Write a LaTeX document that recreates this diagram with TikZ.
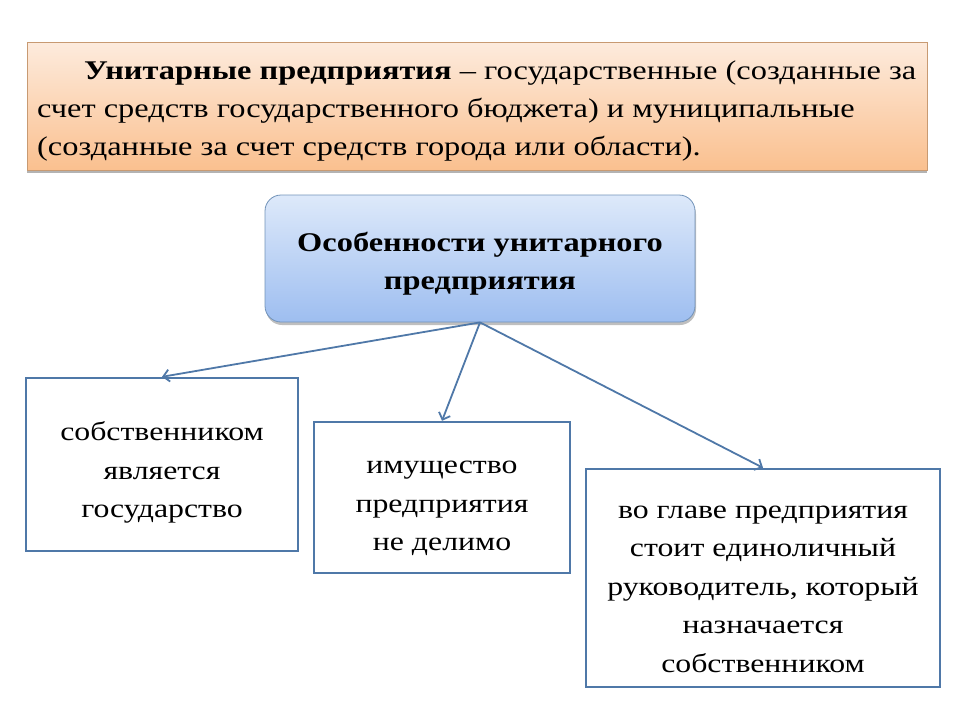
\documentclass[tikz,border=0pt]{standalone}
\usepackage{fontspec}
\setmainfont{Liberation Serif}[FakeStretch=1.2]
\usetikzlibrary{arrows.meta,shadows}

\definecolor{boxline}{HTML}{4F78A8}
\definecolor{peachtop}{HTML}{FDEBDD}
\definecolor{peachbot}{HTML}{FAC08F}
\definecolor{bluetop}{HTML}{DDE9FA}
\definecolor{bluebot}{HTML}{9EBEF0}

% extra room above the first line, pushes the text a bit down
\newcommand{\headgap}{\rule{0pt}{29pt}}
\newcommand{\featgap}{\rule{0pt}{35pt}}

\begin{document}
\begin{tikzpicture}[x=1pt, y=-1pt,
    defbox/.style={draw=peachbot!80!black, line width=0.6pt, top color=peachtop,
        bottom color=peachbot, minimum width=900pt, minimum height=128pt,
        drop shadow={shadow xshift=0pt, shadow yshift=-3pt, opacity=0.6}},
    headbox/.style={draw=boxline!80, line width=0.8pt, rounded corners=16pt,
        top color=bluetop, bottom color=bluebot, minimum width=430pt,
        minimum height=127pt, align=center, font=\fontsize{27}{38}\selectfont\bfseries,
        drop shadow={shadow xshift=1pt, shadow yshift=-3pt, opacity=0.5}},
    featbox/.style={draw=boxline, line width=2.4pt, fill=white, align=center,
        font=\fontsize{26.5}{38.5}\selectfont},
    link/.style={draw=boxline, line width=1.8pt, -{Straight Barb[length=6pt, width=12pt]}}]

    \useasboundingbox (0,0) rectangle (960,720);

    \node[defbox] (def) at (477,106) {};
    \node[anchor=north west, align=left, inner sep=0pt,
        font=\fontsize{27}{38}\selectfont] (deftext) at (37,61)
        {\hspace*{47pt}\textbf{Унитарные предприятия} – государственные (созданные за\\
         счет средств государственного бюджета) и муниципальные\\
         (созданные за счет средств города или области).};

    \node[headbox] (head) at (480,258.5) {\headgap Особенности унитарного\\предприятия};

    \node[featbox, minimum width=272pt, minimum height=173pt] (owner) at (162,464.5)
        {\featgap собственником\\является\\государство};
    \node[featbox, minimum width=256pt, minimum height=151pt] (property) at (442,497.5)
        {\featgap имущество\\предприятия\\не делимо};
    \node[featbox, minimum width=354pt, minimum height=218pt] (director) at (763,578)
        {\featgap во главе предприятия\\стоит единоличный\\руководитель, который\\назначается\\собственником};

    \draw[link] (head.south) -- (owner.north);
    \draw[link] (head.south) -- (property.north);
    \draw[link] (head.south) -- (director.north);

\end{tikzpicture}
\end{document}
